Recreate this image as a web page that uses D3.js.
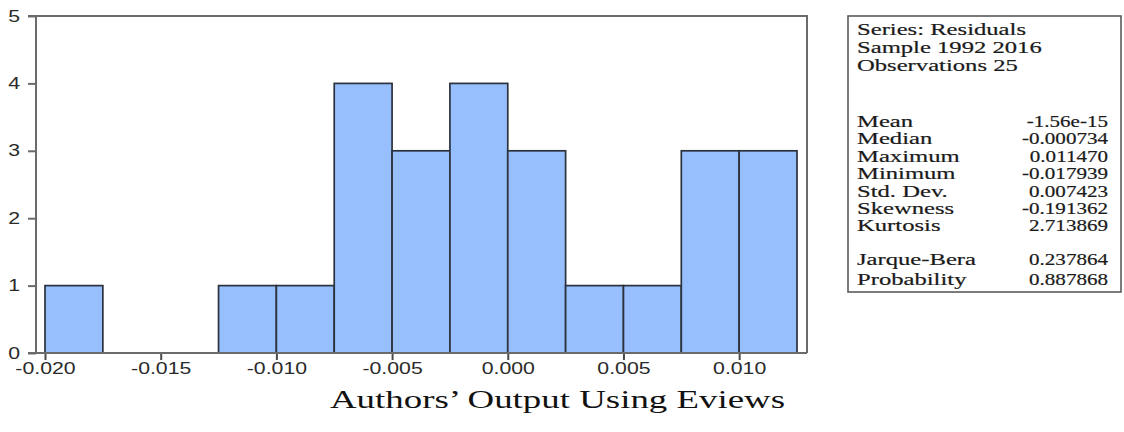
<!DOCTYPE html>
<html>
<head>
<meta charset="utf-8">
<script src="https://cdn.jsdelivr.net/npm/d3@7"></script>
<style>
  html, body { margin: 0; padding: 0; background: #fff; }
  svg { display: block; }
</style>
</head>
<body>
<svg id="chart" width="1124" height="432"></svg>
<script>
// Histogram of residuals: bin lower edges and counts (bin width 0.0025)
const binStarts = [-0.0200, -0.0175, -0.0150, -0.0125, -0.0100, -0.0075, -0.0050, -0.0025, 0.0000, 0.0025, 0.0050, 0.0075, 0.0100];
const binCounts = [1, 0, 0, 1, 1, 4, 3, 4, 3, 1, 1, 3, 3];
const binWidth = 0.0025;

const xTicks = [-0.020, -0.015, -0.010, -0.005, 0.000, 0.005, 0.010];
const yTicks = [0, 1, 2, 3, 4, 5];

// Descriptive statistics panel
const headerLines = ["Series: Residuals", "Sample 1992 2016", "Observations 25"];
const statLabels = ["Mean", "Median", "Maximum", "Minimum", "Std. Dev.", "Skewness", "Kurtosis"];
const statValues = ["-1.56e-15", "-0.000734", "0.011470", "-0.017939", "0.007423", "-0.191362", "2.713869"];
const testLabels = ["Jarque-Bera", "Probability"];
const testValues = ["0.237864", "0.887868"];

const caption = "Authors\u2019 Output Using Eviews";

const svg = d3.select("#chart");

// Plot area
const plot = { left: 36, top: 16, right: 807, bottom: 353 };
const x = d3.scaleLinear().domain([-0.020, 0.0125]).range([45, 797]);
const y = d3.scaleLinear().domain([0, 5]).range([plot.bottom, plot.top]);

const axisStretch = 1.33;   // wide letterforms of the axis labels
const axisColor = "#6b6b6b";
const textColor = "#2a2a2a";

// Bars
svg.append("g")
  .selectAll("rect")
  .data(binStarts.map((s, i) => ({ s, c: binCounts[i] })).filter(d => d.c > 0))
  .join("rect")
  .attr("x", d => x(d.s))
  .attr("y", d => y(d.c))
  .attr("width", d => x(d.s + binWidth) - x(d.s))
  .attr("height", d => y(0) - y(d.c))
  .attr("fill", "#97befd")
  .attr("stroke", "#2b323c")
  .attr("stroke-width", 1.7);

// Frame (top and right edges)
svg.append("path")
  .attr("d", `M${plot.left - 8},${plot.top}H${plot.right}V${plot.bottom}`)
  .attr("fill", "none")
  .attr("stroke", axisColor)
  .attr("stroke-width", 2);

// Y axis
const yAxis = svg.append("g")
  .attr("transform", `translate(${plot.left},0)`)
  .call(d3.axisLeft(y).tickValues(yTicks).tickSize(8).tickPadding(8).tickFormat(d3.format("d")));
yAxis.select(".domain").remove();
yAxis.selectAll(".tick line").attr("stroke", axisColor).attr("stroke-width", 2);
yAxis.selectAll(".tick text")
  .attr("fill", textColor)
  .style("font-family", "'Liberation Sans', Arial, sans-serif")
  .style("font-size", "16px")
  .attr("transform", `scale(${axisStretch},1)`)
  .attr("x", -16 / axisStretch);
svg.append("line")
  .attr("x1", plot.left).attr("x2", plot.left)
  .attr("y1", plot.top).attr("y2", plot.bottom)
  .attr("stroke", axisColor).attr("stroke-width", 2);

// X axis
const fmtX = d => d3.format(".3f")(d).replace("\u2212", "-");
const xAxis = svg.append("g")
  .attr("transform", `translate(0,${plot.bottom})`)
  .call(d3.axisBottom(x).tickValues(xTicks).tickSize(7).tickPadding(3).tickFormat(fmtX));
xAxis.select(".domain").remove();
xAxis.selectAll(".tick line").attr("stroke", "#4a4a4a").attr("stroke-width", 2);
xAxis.selectAll(".tick text")
  .attr("fill", textColor)
  .style("font-family", "'Liberation Sans', Arial, sans-serif")
  .style("font-size", "16px")
  .attr("transform", `scale(${axisStretch},1)`);
svg.append("line")
  .attr("x1", plot.left - 8).attr("x2", plot.right)
  .attr("y1", plot.bottom).attr("y2", plot.bottom)
  .attr("stroke", axisColor).attr("stroke-width", 2);

// Statistics panel
const box = { left: 848, top: 16, right: 1121, bottom: 292 };
svg.append("rect")
  .attr("x", box.left).attr("y", box.top)
  .attr("width", box.right - box.left).attr("height", box.bottom - box.top)
  .attr("fill", "#fff").attr("stroke", "#5a5a5a").attr("stroke-width", 1.6);

const labelX = 857, valueX = 1108;
const headerBase = [35, 53, 71];
const statBase0 = 127, rowH = 17.4;
const testBase = [265, 285];
const statFont = "'Liberation Serif', 'Times New Roman', serif";

function stretchedText(g, txt, tx, ty, anchor, sx) {
  g.append("text")
    .attr("transform", `translate(${tx},${ty}) scale(${sx},1)`)
    .attr("text-anchor", anchor)
    .attr("fill", "#1a1a1a")
    .attr("stroke", "#1a1a1a")
    .attr("stroke-width", 0.2)
    .style("font-family", statFont)
    .style("font-size", "17px")
    .text(txt);
}

const panel = svg.append("g");
const labelStretch = 1.45, valueStretch = 1.24;
headerLines.forEach((t, i) => stretchedText(panel, t, labelX, headerBase[i], "start", labelStretch));
statLabels.forEach((t, i) => {
  const by = statBase0 + i * rowH;
  stretchedText(panel, t, labelX, by, "start", labelStretch);
  stretchedText(panel, statValues[i], valueX, by, "end", valueStretch);
});
testLabels.forEach((t, i) => {
  stretchedText(panel, t, labelX, testBase[i], "start", labelStretch);
  stretchedText(panel, testValues[i], valueX, testBase[i], "end", valueStretch);
});

// Caption
svg.append("text")
  .attr("x", 330)
  .attr("y", 408)
  .attr("textLength", 455)
  .attr("lengthAdjust", "spacingAndGlyphs")
  .attr("fill", "#111")
  .style("font-family", "'Liberation Serif', 'Times New Roman', serif")
  .style("font-size", "25px")
  .text(caption);
</script>
</body>
</html>
